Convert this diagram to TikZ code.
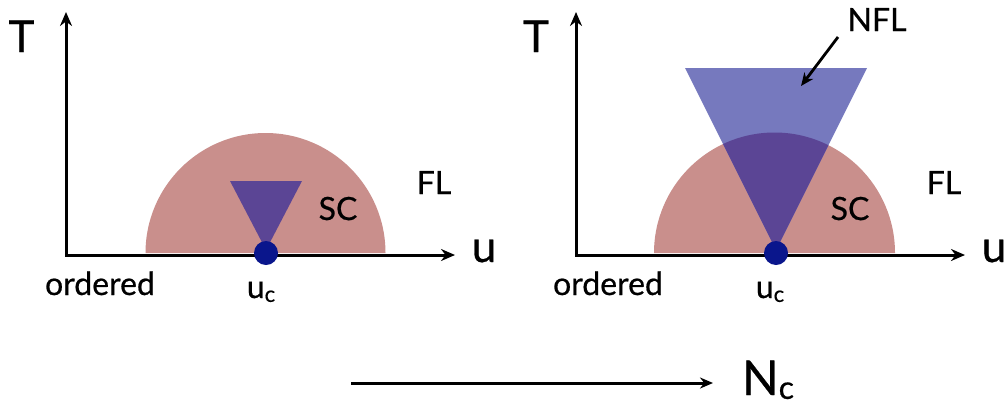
\documentclass[tikz,border=0pt]{standalone}
\usepackage{fontspec}
\setmainfont{Lato}[FakeBold=0.6]
\usetikzlibrary{arrows.meta}
\definecolor{scpink}{RGB}{201,143,140}
\definecolor{nflblue}{RGB}{118,121,190}
\definecolor{nfldark}{RGB}{91,69,149}
\definecolor{qcpdot}{RGB}{10,22,140}
\newcommand{\mysub}[1]{\raisebox{-0.12em}{\fontsize{22}{22}\selectfont #1}}
\begin{document}
\begin{tikzpicture}[x=1pt,y=-1pt,
  axis/.style={line width=3pt,{Stealth[length=14pt,width=12pt]}-{Stealth[length=14pt,width=12pt]}},
  pointer/.style={line width=2.8pt,-{Stealth[length=13pt,width=11pt]}},
  lbl/.style={font=\fontsize{32}{34}\selectfont, anchor=base, inner sep=0pt},
  big/.style={font=\fontsize{44}{46}\selectfont, anchor=base, inner sep=0pt},
  qcp/.style={circle, fill=qcpdot, minimum size=24pt, inner sep=0pt}]
\useasboundingbox (0,0) rectangle (1006,405);

% ---------- left panel ----------
\fill[scpink] (145.5,253) arc[start angle=180,end angle=360,radius=120];
\fill[nfldark] (230,181) -- (302,181) -- (266,250) -- cycle;
\coordinate (T1) at (66,12);
\coordinate (O1) at (66,255);
\coordinate (U1) at (455,255);
\draw[axis] (T1) -- (O1) -- (U1);
\node[qcp] (d1) at (266,253) {};
\node[big] (Tl1) at (21.5,52) {T};
\node[big] (ul1) at (484,262) {u};
\node[lbl] (FL1) at (434,194) {FL};
\node[lbl] (SC1) at (338,220) {SC};
\node[lbl] (ord1) at (100,295) {ordered};
\node[lbl] (uc1) at (261,298) {u\mysub{c}};

% ---------- right panel ----------
\fill[scpink] (654,253) arc[start angle=180,end angle=360,radius=120.5];
\fill[nflblue] (685,68) -- (867,68) -- (776,250) -- cycle;
\begin{scope}
  \clip (654,253) arc[start angle=180,end angle=360,radius=120.5] -- cycle;
  \fill[nfldark] (685,68) -- (867,68) -- (776,250) -- cycle;
\end{scope}
\coordinate (T2) at (576,12);
\coordinate (O2) at (576,255);
\coordinate (U2) at (965,255);
\draw[axis] (T2) -- (O2) -- (U2);
\node[qcp] (d2) at (776,253) {};
\node[big] (Tl2) at (536,52) {T};
\node[big] (ul2) at (994,262) {u};
\node[lbl] (FL2) at (944,194) {FL};
\node[lbl] (SC2) at (850,220) {SC};
\node[lbl] (ord2) at (608,295) {ordered};
\node[lbl] (uc2) at (770,298) {u\mysub{c}};
\node[lbl] (NFL) at (877,31) {NFL};
\coordinate (nfl0) at (838,37);
\coordinate (nfl1) at (801,86);
\draw[pointer] (nfl0) -- (nfl1);

% ---------- bottom arrow ----------
\node[big, font=\fontsize{48}{50}\selectfont] (Nc) at (768,395) {N\raisebox{-0.08em}{\fontsize{32}{32}\selectfont c}};
\coordinate (nc0) at (351,383);
\coordinate (nc1) at (713,383);
\draw[pointer, line width=3pt] (nc0) -- (nc1);
\end{tikzpicture}
\end{document}
